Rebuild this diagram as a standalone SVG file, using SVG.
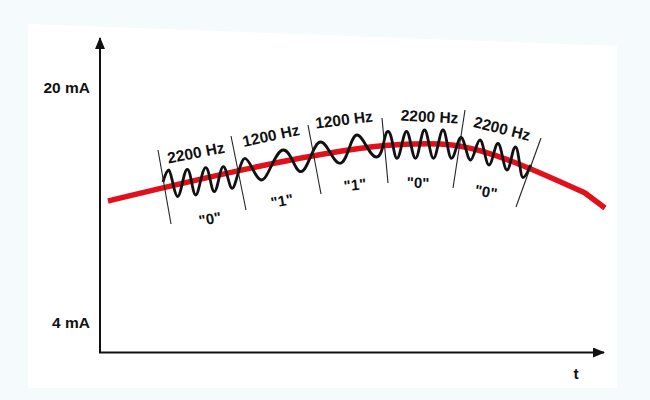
<svg xmlns="http://www.w3.org/2000/svg" width="650" height="400" viewBox="0 0 650 400">
  <style>
    .lbl { font-family: "Liberation Sans", Arial, sans-serif; font-weight: bold; fill: #111; }
    .hz { font-size: 15.5px; text-anchor: middle; }
    .bit { font-size: 15px; text-anchor: middle; }
    .axis { font-size: 15.5px; }
    .ax { stroke: #111; stroke-width: 2; fill: none; }
    .seg { stroke: #222; stroke-width: 1.1; fill: none; }
  </style>
  <defs>
    <marker id="arr" viewBox="0 0 12 10" refX="11" refY="5" markerWidth="12" markerHeight="10" markerUnits="userSpaceOnUse" orient="auto">
      <path d="M0,0 L12,5 L0,10 Z" fill="#111"/>
    </marker>
  </defs>
  <rect width="650" height="400" fill="#f5fbfd"/>
  <polygon points="28,24 617,46 617,388 28,388" fill="#ffffff"/>

  <g id="axes">
    <line class="ax" x1="100" y1="353" x2="100" y2="38" marker-end="url(#arr)"/>
    <line class="ax" x1="99" y1="352.5" x2="604" y2="352.5" marker-end="url(#arr)"/>
    <text class="lbl axis" x="90" y="93" text-anchor="end">20 mA</text>
    <text class="lbl axis" x="90" y="328" text-anchor="end">4 mA</text>
    <text class="lbl axis" x="576" y="379" text-anchor="middle">t</text>
  </g>

  <g id="current">
    <path d="M108,201 C170,186 260,164 330,153 C370,146 400,143 440,144 C480,145 530,168 585,193 L605,208" stroke="#e2101a" stroke-width="5.5" fill="none" stroke-linejoin="round"/>
  </g>

  <g id="fsk-wave">
    <path d="M163,182 C165,175 167,170 169,170 S174.4,196.5 177.7,196.5 S183.7,169.3 187.3,169.3 S192.5,195 195.7,195 S201.9,167.7 205.7,167.7 S211,191.7 214.3,191.7 S219.9,166.7 223.3,166.7 S228.9,188.3 232.3,188.3 S240.2,158.3 245,158.3 S255.4,180 261.7,180 S275.1,150 283.3,150 S294.3,171.7 301,171.7 S313.1,142 320.5,142 S332.6,163.3 340,163.3 S350.5,135 357,135 S369.1,157 376.5,157 S383.6,131.5 388,131.5 S393.6,158.3 397,158.3 S403.1,131.5 406.5,131.5 S412.1,158.3 415.5,158.3 S421.1,130 424.5,130 S430.1,158.3 433.5,158.3 S439.6,130 443,130 S448.1,158.3 451.5,158.3 S457.6,137.5 461,137.5 S467.1,160 470.5,160 S476.6,140 480,140 S485.6,165 489,165 S494.6,143.5 498,143.5 S503.6,170 507,170 S512.2,147 515.5,147 S520,177.5 523,177.5 S529,168 531,165" stroke="#111" stroke-width="2.8" fill="none" stroke-linejoin="round"/>
  </g>

  <g id="segments">
    <line class="seg" x1="158" y1="150" x2="171" y2="224"/>
    <line class="seg" x1="231" y1="136" x2="246" y2="210"/>
    <line class="seg" x1="308" y1="125" x2="321" y2="194"/>
    <line class="seg" x1="382" y1="118" x2="388" y2="183"/>
    <line class="seg" x1="465" y1="110" x2="453" y2="188"/>
    <line class="seg" x1="541" y1="138" x2="516" y2="207"/>
  </g>

  <g id="freq-labels">
    <text class="lbl hz" transform="translate(196,153) rotate(-11)" x="0" y="5">2200 Hz</text>
    <text class="lbl hz" transform="translate(271,136) rotate(-12)" x="0" y="5">1200 Hz</text>
    <text class="lbl hz" transform="translate(344,120) rotate(-7)" x="0" y="5">1200 Hz</text>
    <text class="lbl hz" transform="translate(429.5,117) rotate(3)" x="0" y="5">2200 Hz</text>
    <text class="lbl hz" transform="translate(502,129) rotate(14)" x="0" y="5">2200 Hz</text>
  </g>

  <g id="bit-labels">
    <text class="lbl bit" transform="translate(210,219) rotate(-10)" x="0" y="5">"0"</text>
    <text class="lbl bit" transform="translate(282,201) rotate(-10)" x="0" y="5">"1"</text>
    <text class="lbl bit" transform="translate(355,185) rotate(-6)" x="0" y="5">"1"</text>
    <text class="lbl bit" transform="translate(418,183) rotate(2)" x="0" y="5">"0"</text>
    <text class="lbl bit" transform="translate(486,192) rotate(10)" x="0" y="5">"0"</text>
  </g>
</svg>
